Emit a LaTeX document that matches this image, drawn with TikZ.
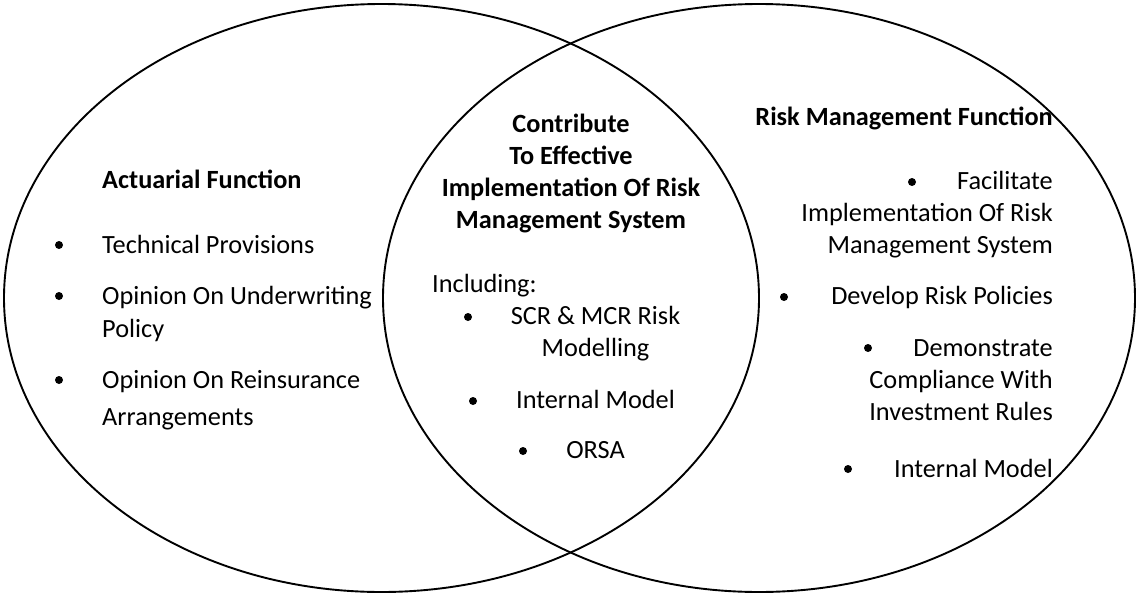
\documentclass[tikz,border=0pt]{standalone}
\usepackage{fontspec}
\setmainfont{Carlito}
\tikzset{
  txt/.style={font=\fontsize{26.3}{32}\selectfont, inner sep=0pt},
  hd/.style={font=\fontsize{26.3}{32}\selectfont\bfseries, inner sep=0pt},
  bul/.style={circle, fill=black, inner sep=0pt, minimum size=8pt},
  ring/.style={draw=black, line width=1.9pt}
}
\begin{document}
\begin{tikzpicture}[x=1pt, y=-1pt]
\useasboundingbox (0,0) rectangle (1140,597);
% circles
\draw[ring] (381.5,298) ellipse [x radius=377.5pt, y radius=294pt];
\draw[ring] (759,298) ellipse [x radius=376pt, y radius=294pt];
% left
\node[hd, anchor=base west] (af) at (102,188) {Actuarial Function};
\node[bul] (lb1) at (59,245) {};
\node[txt, anchor=base west] (l1) at (102,253) {Technical Provisions};
\node[bul] (lb2) at (59,296) {};
\node[txt, anchor=base west] (l2a) at (102,304) {Opinion On Underwriting};
\node[txt, anchor=base west] (l2b) at (102,337) {Policy};
\node[bul] (lb3) at (59,380) {};
\node[txt, anchor=base west] (l3a) at (102,388) {Opinion On Reinsurance};
\node[txt, anchor=base west] (l3b) at (102,425) {Arrangements};
% center
\node[hd, anchor=base] (c1) at (571,132) {Contribute};
\node[hd, anchor=base] (c2) at (571,164) {To Effective};
\node[hd, anchor=base] (c3) at (571,196) {Implementation Of Risk};
\node[hd, anchor=base] (c4) at (571,228) {Management System};
\node[txt, anchor=base west] (inc) at (432,292) {Including:};
\node[bul] (cb1) at (468,317) {};
\node[txt, anchor=base] (m1a) at (595.5,324) {SCR \& MCR Risk};
\node[txt, anchor=base] (m1b) at (595.5,356) {Modelling};
\node[bul] (cb2) at (473,401) {};
\node[txt, anchor=base] (m2) at (595.5,408) {Internal Model};
\node[bul] (cb3) at (523,451) {};
\node[txt, anchor=base] (m3) at (595.5,458) {ORSA};
% right
\node[hd, anchor=base east] (rh) at (1053,125) {Risk Management Function};
\node[bul] (rb1) at (912,182) {};
\node[txt, anchor=base east] (r1a) at (1053,189) {Facilitate};
\node[txt, anchor=base east] (r1b) at (1053,221) {Implementation Of Risk};
\node[txt, anchor=base east] (r1c) at (1053,253) {Management System};
\node[bul] (rb2) at (784,297) {};
\node[txt, anchor=base east] (r2) at (1053,304) {Develop Risk Policies};
\node[bul] (rb3) at (868,348) {};
\node[txt, anchor=base east] (r3a) at (1053,356) {Demonstrate};
\node[txt, anchor=base east] (r3b) at (1053,388) {Compliance With};
\node[txt, anchor=base east] (r3c) at (1053,420) {Investment Rules};
\node[bul] (rb4) at (848,469) {};
\node[txt, anchor=base east] (r4) at (1053,477) {Internal Model};
\end{tikzpicture}
\end{document}
